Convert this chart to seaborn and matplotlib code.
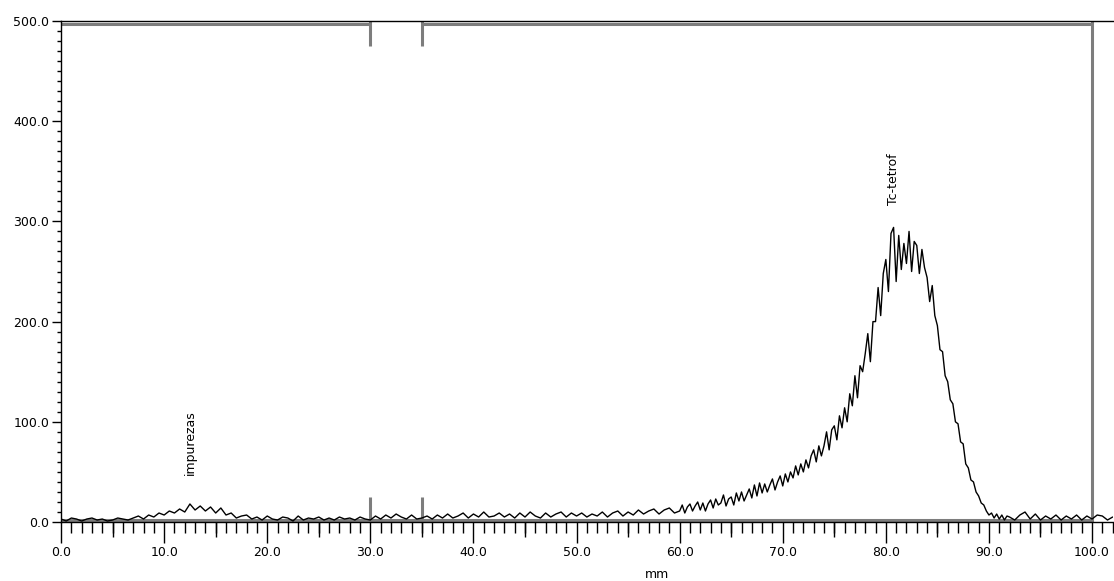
import numpy as np
import matplotlib
matplotlib.use("Agg")
import matplotlib.pyplot as plt
import seaborn as sns
from matplotlib.ticker import MultipleLocator, FormatStrFormatter

# radiochromatogram trace, counts
# 0 - 59.5 mm, every 0.5 mm
x_lo = np.arange(0, 60, 0.5)
counts_lo = [3, 1, 4, 3, 1, 3, 4, 2, 3, 1, 2, 4, 3, 2,
             4, 6, 3, 7,
             5, 9, 7, 11, 9, 13, 10, 18, 12, 16, 11, 15, 9, 14, 7, 9, 4, 6,
             7, 3, 5, 2, 6, 3, 2, 5, 4, 1, 6, 2, 4, 3, 5, 2, 4, 2, 5, 3, 4, 2, 5, 3,
             2, 6, 3, 7, 4, 8, 5, 3, 7, 3,
             4, 6, 3, 7, 4, 8, 4, 6, 9, 4, 8, 5, 10, 5, 6, 9, 5, 8, 4, 9, 5, 10, 6, 4, 9, 5, 8, 10, 5, 9,
             6, 9, 5, 8, 6, 10, 5, 9, 11, 6, 10, 7, 12, 8, 11, 13, 8, 12, 14, 9]

# 60 - 91.75 mm, every 0.25 mm (Tc-tetrof peak)
x_mid = np.arange(60, 92, 0.25)
counts_mid = [11, 17, 9, 15, 18, 11, 16, 20, 12, 19, 11, 18, 22, 14, 23, 17,
              19, 27, 16, 23, 25, 17, 29, 21, 30, 21, 27, 33, 24, 37, 26, 39,
              29, 38, 30, 37, 43, 32, 40, 46, 36, 48, 40, 50, 44, 56, 47, 58,
              50, 62, 54, 66, 72, 60, 76, 66, 76, 90, 72, 92, 96, 82, 106, 94,
              114, 100, 128, 116, 146, 124, 156, 150, 168, 188, 160, 200, 200, 234, 206, 248,
              262, 230, 288, 294, 240, 286, 252, 278, 258, 290, 250, 280, 276, 248, 272, 254,
              244, 220, 236, 206, 196, 172, 170, 146, 140, 122, 118, 100, 98, 80, 78, 58,
              54, 42, 40, 30, 26, 19, 17, 11, 7, 9, 4, 8, 3, 7, 2, 6]

# 92 - 102 mm, every 0.5 mm
x_hi = np.arange(92, 102.01, 0.5)
counts_hi = [5, 2, 7, 10, 3, 8, 2, 6, 3, 7, 2, 6, 3, 7, 2, 6, 3, 7, 6, 2, 5]

x_mm = np.concatenate([x_lo, x_mid, x_hi])
counts = np.array(counts_lo + counts_mid + counts_hi, dtype=float)

# region-of-interest markers
roi_lines = [30.0, 35.0]
end_line = 100.0
labels = ["impurezas", "Tc-tetrof"]
label_x = [12.5, 80.7]
label_y = [47, 316]

sns.set_style("white")
plt.rcParams['font.family'] = ['DejaVu Sans']

fig = plt.figure(figsize=(11.14, 5.81), dpi=100)
ax = fig.add_axes([0.0548, 0.1015, 0.9440, 0.8624])

gray = "#7d7d7d"
# baseline / top range lines
ax.plot([0, 30], [497, 497], color=gray, lw=2.2, solid_capstyle='butt')
ax.plot([35, 100], [497, 497], color=gray, lw=2.2, solid_capstyle='butt')
ax.plot([0, 100], [2, 2], color=gray, lw=2.2, solid_capstyle='butt')
for xv in roi_lines:
    ax.plot([xv, xv], [475, 500], color=gray, lw=2.2, solid_capstyle='butt')
    ax.plot([xv, xv], [0, 25], color=gray, lw=2.2, solid_capstyle='butt')
ax.plot([end_line, end_line], [0, 500], color=gray, lw=2.2, solid_capstyle='butt')

sns.lineplot(x=x_mm, y=counts, ax=ax, color="black", lw=1.0, estimator=None)

for txt, xv, yv in zip(labels, label_x, label_y):
    ax.text(xv, yv, txt, rotation=90, ha='center', va='bottom', fontsize=9, color='black')

ax.set_xlim(0, 102)
ax.set_ylim(0, 500)

ax.xaxis.set_major_locator(MultipleLocator(10))
ax.xaxis.set_minor_locator(MultipleLocator(1))
ax.yaxis.set_major_locator(MultipleLocator(100))
ax.yaxis.set_minor_locator(MultipleLocator(10))
ax.xaxis.set_major_formatter(FormatStrFormatter('%.1f'))
ax.yaxis.set_major_formatter(FormatStrFormatter('%.1f'))

ax.tick_params(axis='x', which='major', direction='out', length=15, width=1,
               labelsize=9, pad=2, bottom=True, colors='black')
ax.tick_params(axis='x', which='minor', direction='out', length=8, width=1, bottom=True,
               colors='black')
ax.tick_params(axis='y', which='major', direction='out', length=6.5, width=1,
               labelsize=9, pad=2, left=True, colors='black')
ax.tick_params(axis='y', which='minor', direction='out', length=2.7, width=1, left=True,
               colors='black')

# medium ticks at the 5 mm marks
sec = ax.secondary_xaxis('bottom')
sec.set_xticks(np.arange(5, 100, 10))
sec.tick_params(axis='x', length=10.5, width=1, labelbottom=False, colors='black')
sec.spines['bottom'].set_visible(False)

ax.set_xlabel("mm", fontsize=9, color='black')
ax.xaxis.set_label_coords(0.567, -0.092)
ax.set_ylabel("")

for side in ['left', 'bottom', 'top']:
    ax.spines[side].set_color('black')
    ax.spines[side].set_linewidth(1)
ax.spines['right'].set_visible(False)

fig.savefig("out.png", dpi=100, facecolor='white')
